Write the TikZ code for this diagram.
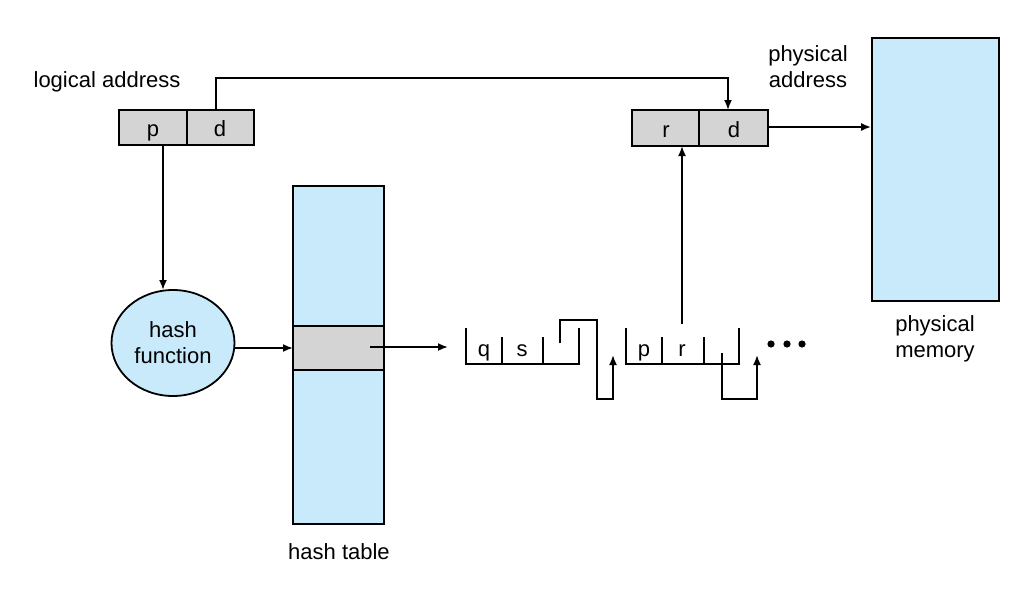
\documentclass[tikz,border=0pt]{standalone}
\usepackage{fontspec}
\setmainfont{Liberation Sans}
\usetikzlibrary{arrows.meta,shapes.geometric}
\definecolor{lb}{RGB}{200,234,250}
\definecolor{gb}{RGB}{212,212,212}
\begin{document}
\begin{tikzpicture}[x=1pt,y=-1pt,
  ln/.style={line width=1.8pt},
  ar/.style={ln,-{Latex[length=10pt,width=8pt]}},
  lbl/.style={font=\fontsize{22}{26}\selectfont,align=center,inner sep=0},
  ch/.style={font=\fontsize{22}{26}\selectfont,inner sep=0,anchor=base}]
\useasboundingbox (0,0) rectangle (1028,602);
% logical address
\node[lbl] (la) at (107,82) {logical address};
\draw[ln,fill=gb] (119,110) rectangle (254,145);
\draw[ln] (187,110) -- (187,145);
\node[ch] (p) at (153,136) {p};
\node[ch] (d) at (220,136) {d};
% physical address box
\draw[ln,fill=gb] (632,110) rectangle (768,146);
\draw[ln] (699,110) -- (699,146);
\node[ch] (r) at (666,137) {r};
\node[ch] (d2) at (734,137) {d};
\node[lbl] (pa) at (808,67) {physical\\address};
\coordinate (dtop) at (216,110);
\coordinate (rdtop) at (728,110);
\draw[ar] (dtop) -- (216,78) -- (728,78) -- (rdtop);
% memory
\node[draw,ln,fill=lb,minimum width=127pt,minimum height=263pt,inner sep=0] (mem) at (935.5,169.5) {};
\node[lbl] (pm) at (935,339) {physical\\memory};
\draw[ar] (768,127) -- (mem.west |- 0,127);
% hash function
\node[draw,ln,fill=lb,ellipse,minimum width=123pt,minimum height=106pt,inner sep=0] (hf) at (173,343) {};
\node[lbl] at (hf) {hash\\function};
\draw[ar] (163,145) -- (163,290);
% hash table
\node[draw,ln,fill=lb,minimum width=91pt,minimum height=338pt,inner sep=0] (ht) at (338.5,355) {};
\draw[ln,fill=gb] (293,326) rectangle (384,370);
\node[lbl] (htl) at (339,552) {hash table};
\draw[ar] (hf.east |- 0,348) -- (293,348);
\draw[ar] (370,347) -- (448,347);
% list 1
\draw[ln] (466,328) -- (466,364) -- (579,364) -- (579,328);
\draw[ln] (502,337) -- (502,364);
\draw[ln] (543,337) -- (543,364);
\node[ch] at (484,356) {q};
\node[ch] at (522,356) {s};
\draw[ar] (560,343) -- (560,320) -- (597,320) -- (597,399) -- (613,399) -- (613,355);
% list 2
\draw[ln] (626,328) -- (626,364) -- (739,364) -- (739,328);
\draw[ln] (662,337) -- (662,364);
\draw[ln] (704,337) -- (704,364);
\node[ch] at (644,356) {p};
\node[ch] at (682,356) {r};
\draw[ar] (682,324) -- (682,146);
\draw[ar] (722,353) -- (722,399) -- (757,399) -- (757,355);
\foreach \x in {771,787,802} \fill (\x,344) circle (3.6pt);
\end{tikzpicture}
\end{document}
